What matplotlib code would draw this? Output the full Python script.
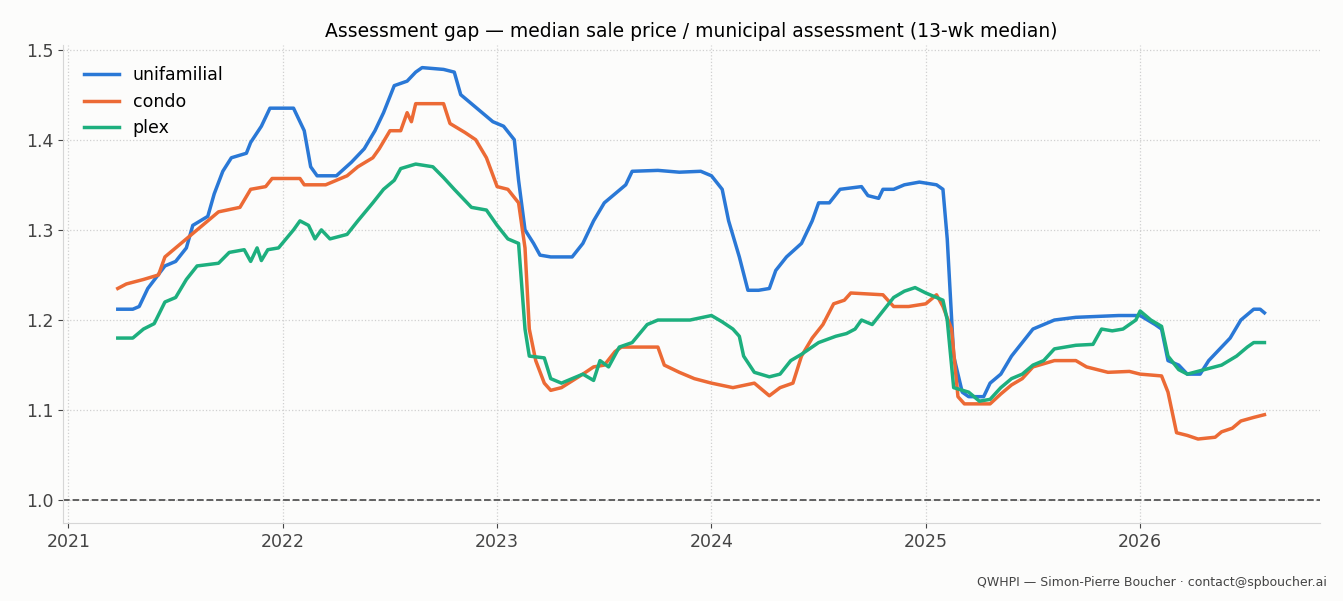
import matplotlib.pyplot as plt

uni_t = [2021.23, 2021.30, 2021.33, 2021.37, 2021.45, 2021.50, 2021.55, 2021.58, 2021.65, 2021.68, 2021.72, 2021.76, 2021.83, 2021.85, 2021.90, 2021.94, 2022.05, 2022.10, 2022.13, 2022.16, 2022.25, 2022.32, 2022.38, 2022.43, 2022.47, 2022.52, 2022.58, 2022.62, 2022.65, 2022.75, 2022.80, 2022.83, 2022.88, 2022.93, 2022.98, 2023.03, 2023.08, 2023.10, 2023.13, 2023.17, 2023.20, 2023.25, 2023.35, 2023.40, 2023.45, 2023.50, 2023.55, 2023.60, 2023.63, 2023.75, 2023.85, 2023.95, 2024.00, 2024.05, 2024.08, 2024.13, 2024.17, 2024.22, 2024.27, 2024.30, 2024.35, 2024.42, 2024.47, 2024.50, 2024.55, 2024.60, 2024.70, 2024.73, 2024.78, 2024.80, 2024.85, 2024.90, 2024.97, 2025.05, 2025.08, 2025.10, 2025.13, 2025.17, 2025.20, 2025.27, 2025.30, 2025.35, 2025.40, 2025.45, 2025.50, 2025.55, 2025.60, 2025.70, 2025.80, 2025.90, 2026.00, 2026.07, 2026.10, 2026.13, 2026.18, 2026.22, 2026.28, 2026.32, 2026.38, 2026.42, 2026.47, 2026.53, 2026.56, 2026.58]
uni_v = [1.212, 1.212, 1.215, 1.235, 1.26, 1.265, 1.28, 1.305, 1.315, 1.34, 1.365, 1.38, 1.385, 1.397, 1.415, 1.435, 1.435, 1.41, 1.37, 1.36, 1.36, 1.375, 1.39, 1.41, 1.43, 1.46, 1.465, 1.475, 1.48, 1.478, 1.475, 1.45, 1.44, 1.43, 1.42, 1.415, 1.40, 1.355, 1.30, 1.285, 1.272, 1.27, 1.27, 1.285, 1.31, 1.33, 1.34, 1.35, 1.365, 1.366, 1.364, 1.365, 1.36, 1.345, 1.31, 1.27, 1.233, 1.233, 1.235, 1.255, 1.27, 1.285, 1.31, 1.33, 1.33, 1.345, 1.348, 1.338, 1.335, 1.345, 1.345, 1.35, 1.353, 1.35, 1.345, 1.29, 1.16, 1.12, 1.115, 1.115, 1.13, 1.14, 1.16, 1.175, 1.19, 1.195, 1.2, 1.203, 1.204, 1.205, 1.205, 1.195, 1.19, 1.155, 1.15, 1.14, 1.14, 1.155, 1.17, 1.18, 1.2, 1.212, 1.212, 1.208]

condo_t = [2021.23, 2021.27, 2021.35, 2021.42, 2021.45, 2021.50, 2021.55, 2021.60, 2021.65, 2021.70, 2021.80, 2021.85, 2021.92, 2021.95, 2022.08, 2022.10, 2022.20, 2022.30, 2022.35, 2022.42, 2022.45, 2022.50, 2022.55, 2022.58, 2022.60, 2022.62, 2022.75, 2022.78, 2022.85, 2022.90, 2022.95, 2023.00, 2023.05, 2023.10, 2023.13, 2023.15, 2023.18, 2023.22, 2023.25, 2023.30, 2023.40, 2023.45, 2023.50, 2023.55, 2023.58, 2023.75, 2023.78, 2023.85, 2023.92, 2024.00, 2024.10, 2024.20, 2024.27, 2024.32, 2024.38, 2024.42, 2024.47, 2024.52, 2024.57, 2024.62, 2024.65, 2024.80, 2024.85, 2024.92, 2025.00, 2025.05, 2025.08, 2025.12, 2025.15, 2025.18, 2025.30, 2025.35, 2025.40, 2025.45, 2025.50, 2025.60, 2025.70, 2025.75, 2025.85, 2025.95, 2026.00, 2026.10, 2026.13, 2026.17, 2026.22, 2026.27, 2026.35, 2026.38, 2026.43, 2026.47, 2026.53, 2026.58]
condo_v = [1.235, 1.24, 1.245, 1.25, 1.27, 1.28, 1.29, 1.30, 1.31, 1.32, 1.325, 1.345, 1.348, 1.357, 1.357, 1.35, 1.35, 1.36, 1.37, 1.38, 1.39, 1.41, 1.41, 1.43, 1.42, 1.44, 1.44, 1.418, 1.408, 1.40, 1.38, 1.348, 1.345, 1.33, 1.28, 1.19, 1.155, 1.13, 1.122, 1.125, 1.14, 1.148, 1.15, 1.165, 1.17, 1.17, 1.15, 1.142, 1.135, 1.13, 1.125, 1.13, 1.116, 1.125, 1.13, 1.16, 1.18, 1.195, 1.218, 1.222, 1.23, 1.228, 1.215, 1.215, 1.218, 1.228, 1.215, 1.19, 1.115, 1.107, 1.107, 1.118, 1.128, 1.135, 1.148, 1.155, 1.155, 1.148, 1.142, 1.143, 1.14, 1.138, 1.12, 1.075, 1.072, 1.068, 1.07, 1.076, 1.08, 1.088, 1.092, 1.095]

plex_t = [2021.23, 2021.30, 2021.35, 2021.40, 2021.45, 2021.50, 2021.55, 2021.60, 2021.70, 2021.75, 2021.82, 2021.85, 2021.88, 2021.90, 2021.93, 2021.98, 2022.05, 2022.08, 2022.12, 2022.15, 2022.18, 2022.22, 2022.30, 2022.35, 2022.42, 2022.47, 2022.52, 2022.55, 2022.62, 2022.70, 2022.75, 2022.80, 2022.88, 2022.95, 2023.00, 2023.05, 2023.10, 2023.13, 2023.15, 2023.22, 2023.25, 2023.30, 2023.40, 2023.45, 2023.48, 2023.52, 2023.57, 2023.63, 2023.70, 2023.75, 2023.90, 2024.00, 2024.05, 2024.10, 2024.13, 2024.15, 2024.20, 2024.27, 2024.32, 2024.37, 2024.42, 2024.50, 2024.58, 2024.63, 2024.67, 2024.70, 2024.75, 2024.80, 2024.85, 2024.90, 2024.95, 2025.00, 2025.08, 2025.10, 2025.13, 2025.20, 2025.25, 2025.30, 2025.35, 2025.40, 2025.45, 2025.50, 2025.55, 2025.60, 2025.70, 2025.78, 2025.82, 2025.87, 2025.92, 2025.98, 2026.00, 2026.05, 2026.10, 2026.13, 2026.18, 2026.22, 2026.30, 2026.38, 2026.45, 2026.50, 2026.53, 2026.58]
plex_v = [1.18, 1.18, 1.19, 1.196, 1.22, 1.225, 1.245, 1.26, 1.263, 1.275, 1.278, 1.265, 1.28, 1.266, 1.278, 1.28, 1.30, 1.31, 1.305, 1.29, 1.30, 1.29, 1.295, 1.31, 1.33, 1.345, 1.355, 1.368, 1.373, 1.37, 1.358, 1.345, 1.325, 1.322, 1.305, 1.29, 1.285, 1.19, 1.16, 1.158, 1.135, 1.13, 1.14, 1.133, 1.155, 1.148, 1.17, 1.175, 1.195, 1.20, 1.20, 1.205, 1.198, 1.19, 1.182, 1.16, 1.142, 1.137, 1.14, 1.155, 1.162, 1.175, 1.182, 1.185, 1.19, 1.20, 1.195, 1.21, 1.225, 1.232, 1.236, 1.23, 1.222, 1.20, 1.125, 1.12, 1.11, 1.112, 1.125, 1.135, 1.14, 1.15, 1.155, 1.168, 1.172, 1.173, 1.19, 1.188, 1.19, 1.20, 1.21, 1.20, 1.193, 1.16, 1.145, 1.14, 1.145, 1.15, 1.16, 1.17, 1.175, 1.175]

years = [2021, 2022, 2023, 2024, 2025, 2026]

bg = '#fcfcfb'
fig, ax = plt.subplots(figsize=(13.43, 6.01), dpi=100, facecolor=bg)
ax.set_facecolor(bg)
fig.subplots_adjust(left=0.047, right=0.983, top=0.925, bottom=0.13)

ax.plot(uni_t, uni_v, color='#2a78d6', lw=2.5, label='unifamilial')
ax.plot(condo_t, condo_v, color='#ec6a35', lw=2.5, label='condo')
ax.plot(plex_t, plex_v, color='#1daf7e', lw=2.5, label='plex')
ax.axhline(1.0, color='#555555', ls='--', lw=1.3)

ax.set_xlim(2020.975, 2026.84)
ax.set_ylim(0.975, 1.505)
ax.set_xticks(years)
ax.set_xticklabels([str(y) for y in years])
ax.set_yticks([1.0, 1.1, 1.2, 1.3, 1.4, 1.5])
ax.grid(True, ls=':', color='#d0d0d0', lw=0.9)
ax.tick_params(labelsize=12.5, colors='#444444')
for s in ['top', 'right']:
    ax.spines[s].set_visible(False)
for s in ['left', 'bottom']:
    ax.spines[s].set_color('#d6d6d6')

ax.set_title('Assessment gap — median sale price / municipal assessment (13-wk median)', fontsize=13.5)
ax.legend(loc='upper left', frameon=False, fontsize=12.5, borderaxespad=0.8)
fig.text(0.988, 0.025, 'QWHPI — Simon-Pierre Boucher · contact@spboucher.ai', ha='right', fontsize=9, color='#444444')

fig.savefig('out.png', facecolor=bg)
